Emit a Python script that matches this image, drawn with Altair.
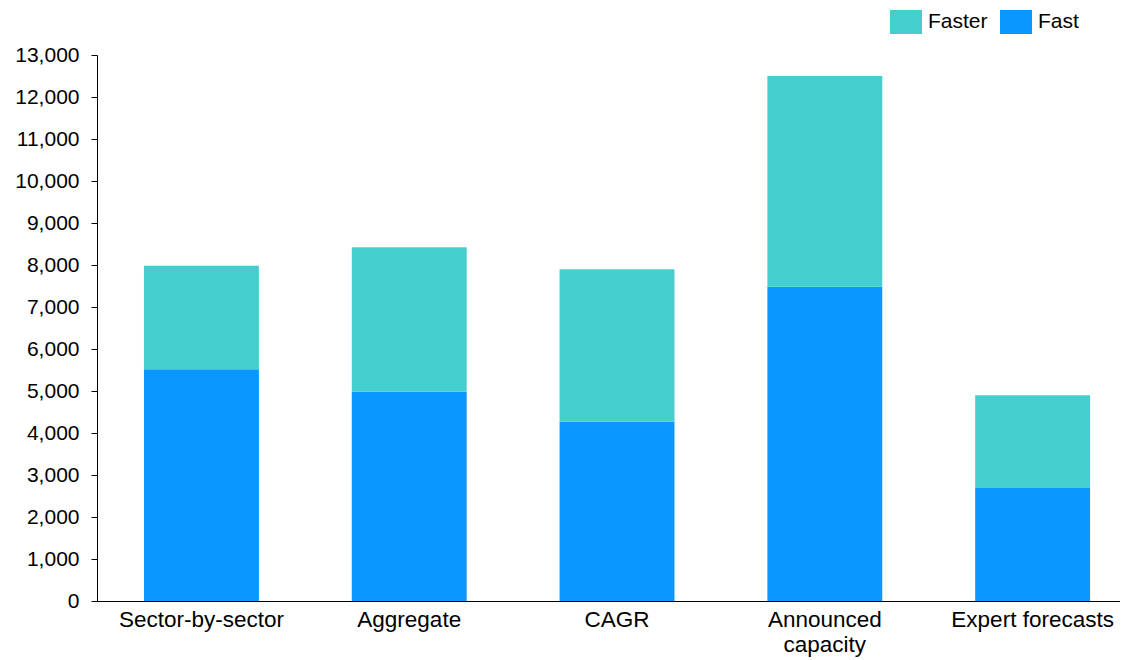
import altair as alt
import pandas as pd

categories = ["Sector-by-sector", "Aggregate", "CAGR", "Announced capacity", "Expert forecasts"]
fast = [5520, 4980, 4270, 7480, 2690]
faster = [2460, 3440, 3630, 5020, 2210]
series = ["Faster", "Fast"]
colors = ["#45CFCC", "#0A97FF"]
y_ticks = list(range(0, 13001, 1000))

rows = []
for c, f, ff in zip(categories, fast, faster):
    rows.append({"category": c, "series": "Fast", "value": f, "ord": 0})
    rows.append({"category": c, "series": "Faster", "value": ff, "ord": 1})
df = pd.DataFrame(rows)

font = "Liberation Sans"

chart = alt.Chart(df).mark_bar().encode(
    x=alt.X("category:N", sort=categories,
            scale=alt.Scale(paddingInner=0.447, paddingOuter=0.185, align=0.611),
            axis=alt.Axis(title=None, labelAngle=0, ticks=False, domainColor="#000000",
                          domainWidth=1, labelFontSize=22.5, labelColor="#000000",
                          labelPadding=7, labelFont=font, labelLineHeight=25,
                          labelBaseline="top",
                          labelExpr="datum.label == 'Announced capacity' ? ['Announced', 'capacity'] : datum.label")),
    y=alt.Y("value:Q", stack="zero",
            scale=alt.Scale(domain=[0, 13000], nice=False),
            axis=alt.Axis(title=None, values=y_ticks, format=",.0f", grid=False,
                          domainColor="#000000", tickColor="#000000", tickSize=6,
                          labelFontSize=21, labelColor="#000000", labelPadding=12,
                          labelFont=font)),
    color=alt.Color("series:N", sort=series,
                    scale=alt.Scale(domain=series, range=colors),
                    legend=alt.Legend(title=None, orient="none", direction="horizontal",
                                      legendX=793, legendY=-49, padding=0,
                                      symbolType="M-1,-0.75H1V0.75H-1Z", symbolSize=1024,
                                      symbolStrokeWidth=0, symbolOpacity=1,
                                      labelFontSize=21, labelFont=font, labelColor="#000000",
                                      labelOffset=6, columnPadding=12)),
    order=alt.Order("ord:Q", sort="ascending"),
).properties(
    width=1023, height=546,
    autosize=alt.AutoSizeParams(type="none"),
    padding={"left": 89, "top": 47, "right": 0, "bottom": 57},
).configure_view(stroke=None).configure_axis(domainWidth=1)

chart.save("out.html", embed_options={"renderer": "svg", "actions": False})
